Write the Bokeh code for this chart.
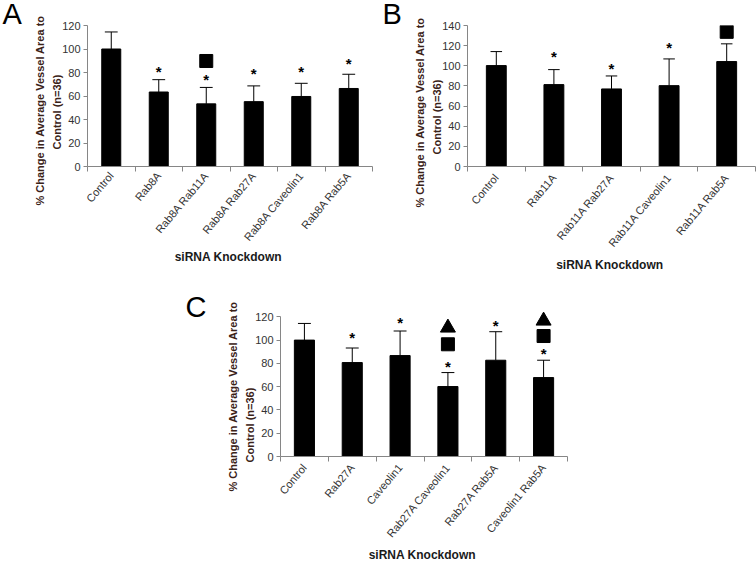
from bokeh.plotting import figure
from bokeh.layouts import row, column
from bokeh.models import Spacer, FixedTicker, Title
from bokeh.core.properties import value
from bokeh.embed import file_html
from bokeh.resources import INLINE

# ---------------- data ----------------
a_cats = ["Control", "Rab8A", "Rab8A Rab11A", "Rab8A Rab27A", "Rab8A Caveolin1", "Rab8A Rab5A"]
a_vals = [100.0, 63.4, 53.3, 55.2, 59.6, 66.4]
a_err = [114.5, 73.9, 67.3, 68.6, 70.8, 78.5]
a_star = [None, 83.7, 76.6, 81.5, 83.7, 90.3]
a_square = [None, None, 89.8, None, None, None]
a_tri = [None, None, None, None, None, None]
a_ticks = [0, 20, 40, 60, 80, 100, 120]

b_cats = ["Control", "Rab11A", "Rab11A Rab27A", "Rab11A Caveolin1", "Rab11A Rab5A"]
b_vals = [100.2, 81.3, 77.0, 80.3, 104.2]
b_err = [114.1, 96.2, 89.9, 106.8, 121.8]
b_star = [None, 111.8, 100.2, 120.8, None]
b_square = [None, None, None, None, 133.7]
b_tri = [None, None, None, None, None]
b_ticks = [0, 20, 40, 60, 80, 100, 120, 140]

c_cats = ["Control", "Rab27A", "Caveolin1", "Rab27A Caveolin1", "Rab27A Rab5A", "Caveolin1 Rab5A"]
c_vals = [100.0, 80.7, 86.7, 60.1, 82.7, 67.8]
c_err = [114.3, 93.2, 107.8, 72.1, 107.2, 82.7]
c_star = [None, 104.9, 117.7, 80.1, 115.2, 90.9]
c_square = [None, None, None, 96.4, None, 103.5]
c_tri = [None, None, None, 110.6, None, 116.6]
c_ticks = [0, 20, 40, 60, 80, 100, 120]

Y_TITLE_1 = "% Change in Average Vessel Area to"
Y_TITLE_2 = "Control (n=36)"
X_TITLE = "siRNA  Knockdown"

FONT = "Liberation Sans"
AXIS_COL = "#868686"
YT_COL = "#3a2218"


def panel(letter, cats, vals, errs, stars, squares, tris, ticks, y_end,
          W, H, left, right, top, bottom, bar_w, cap_w,
          letter_off, letter_standoff, yt1_off, yt2_off, lab_so, title_so):
    n = len(cats)
    p = figure(width=W, height=H, x_range=(0, n), y_range=(0, y_end),
               output_backend="svg", toolbar_location=None,
               min_border_left=left, min_border_right=right,
               min_border_top=top, min_border_bottom=bottom)
    p.outline_line_color = None
    p.grid.visible = False
    p.background_fill_color = "white"
    p.border_fill_color = "white"

    p.title = Title(text=letter, align="left", offset=letter_off, vertical_align="middle",
                    standoff=letter_standoff, text_font=FONT, text_font_size="29px",
                    text_font_style="normal", text_color="black")

    xs = [i + 0.5 for i in range(n)]
    p.vbar(x=xs, top=vals, bottom=0, width=bar_w, fill_color="black", line_color="black")
    p.segment(x0=xs, y0=vals, x1=xs, y1=errs, line_color="black", line_width=1)
    p.segment(x0=[x - cap_w / 2 for x in xs], y0=errs, x1=[x + cap_w / 2 for x in xs], y1=errs,
              line_color="black", line_width=1)

    sx = [x for x, s in zip(xs, stars) if s is not None]
    sy = [s for s in stars if s is not None]
    if sx:
        p.text(x=sx, y=sy, text=["*"] * len(sx), text_font=value(FONT), text_font_size="15px",
               text_font_style="bold", text_align="center", text_baseline="middle",
               text_color="black", y_offset=3)
    qx = [x for x, s in zip(xs, squares) if s is not None]
    qy = [s for s in squares if s is not None]
    if qx:
        p.scatter(x=qx, y=qy, marker="square", size=13, color="black")
    tx = [x for x, s in zip(xs, tris) if s is not None]
    ty = [s for s in tris if s is not None]
    if tx:
        p.scatter(x=tx, y=ty, marker="triangle", size=15, color="black")

    # x axis: labels at category centres, ticks between categories
    xa = p.xaxis[0]
    xa.ticker = FixedTicker(ticks=xs, minor_ticks=list(range(n + 1)))
    xa.major_label_overrides = {x: c for x, c in zip(xs, cats)}
    xa.major_label_orientation = 0.873
    xa.major_tick_out = 0
    xa.major_tick_in = 0
    xa.minor_tick_out = 5
    xa.minor_tick_in = 0
    xa.minor_tick_line_color = AXIS_COL
    xa.axis_line_color = AXIS_COL
    xa.major_label_text_font = FONT
    xa.major_label_text_font_size = "11px"
    xa.major_label_text_color = "#333333"
    xa.major_label_standoff = lab_so
    xa.axis_label = X_TITLE
    xa.axis_label_text_font = FONT
    xa.axis_label_text_font_size = "12px"
    xa.axis_label_text_font_style = "bold"
    xa.axis_label_text_color = "#1a1a1a"
    xa.axis_label_standoff = title_so

    ya = p.yaxis[0]
    ya.ticker = FixedTicker(ticks=ticks)
    ya.bounds = (0, ticks[-1])
    ya.major_tick_out = 4
    ya.major_tick_in = 0
    ya.minor_tick_line_color = None
    ya.major_tick_line_color = AXIS_COL
    ya.axis_line_color = AXIS_COL
    ya.major_label_text_font = FONT
    ya.major_label_text_font_size = "11px"
    ya.major_label_text_color = "#333333"
    ya.major_label_standoff = 3

    # two-line y title, shifted along the axis like the original
    p.add_layout(Title(text=Y_TITLE_2, align="left", offset=yt2_off, standoff=-6,
                       text_font=FONT, text_font_size="11px", text_font_style="bold",
                       text_color=YT_COL), "left")
    p.add_layout(Title(text=Y_TITLE_1, align="left", offset=yt1_off, standoff=11,
                       text_font=FONT, text_font_size="11px", text_font_style="bold",
                       text_color=YT_COL), "left")
    return p


pA = panel("A", a_cats, a_vals, a_err, a_star, a_square, a_tri, a_ticks, 120,
           W=380, H=280, left=87, right=8, top=25, bottom=109, bar_w=0.4, cap_w=0.27,
           letter_off=-85, letter_standoff=-10.5, yt1_off=-39, yt2_off=17,
           lab_so=2, title_so=0)
pB = panel("B", b_cats, b_vals, b_err, b_star, b_square, b_tri, b_ticks, 140,
           W=376, H=280, left=87, right=1, top=25, bottom=114, bar_w=0.345, cap_w=0.2,
           letter_off=-85, letter_standoff=-10.5, yt1_off=-41, yt2_off=12,
           lab_so=4, title_so=2)
pC = panel("C", c_cats, c_vals, c_err, c_star, c_square, c_tri, c_ticks, 128,
           W=390, H=285, left=95, right=8, top=27, bottom=108, bar_w=0.42, cap_w=0.27,
           letter_off=-95, letter_standoff=-32, yt1_off=-35, yt2_off=-6,
           lab_so=4, title_so=2)

layout = column(row(pA, pB), row(Spacer(width=185, height=285), pC))

open("out.html", "w").write(file_html(layout, INLINE))
